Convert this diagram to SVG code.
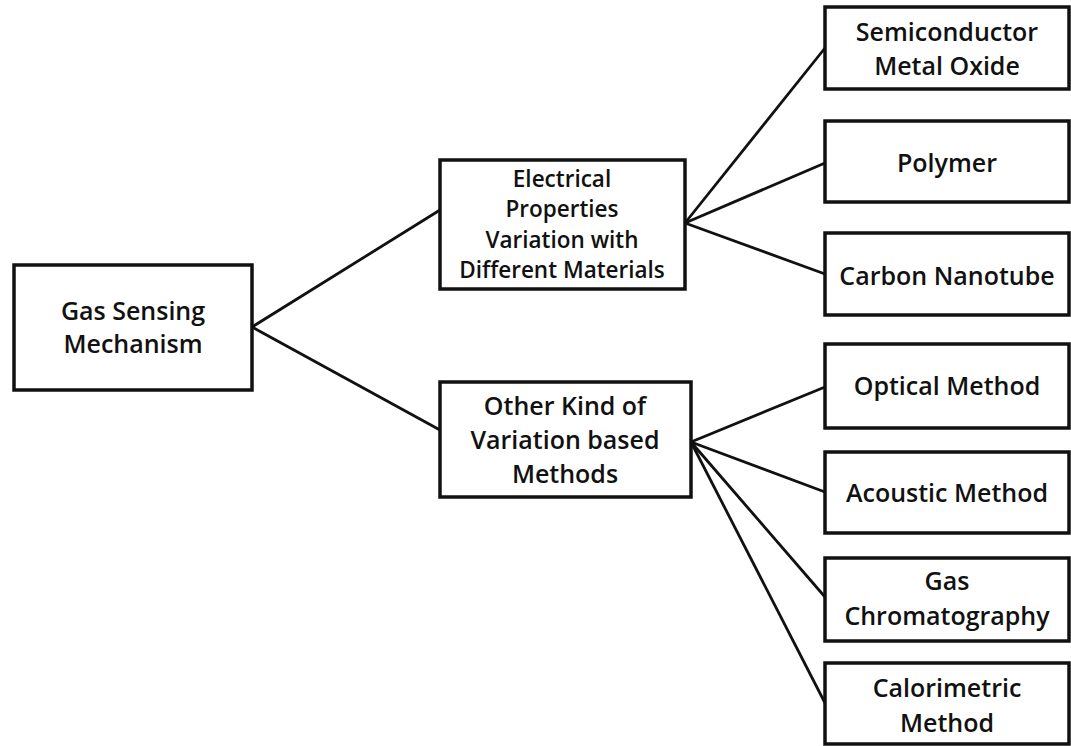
<svg xmlns="http://www.w3.org/2000/svg" width="1071" height="746" viewBox="0 0 1071 746">
<style>
.box{fill:#fff;stroke:#111;stroke-width:3.5}
.t{font-family:"Open Sans","Noto Sans",sans-serif;font-weight:600;fill:#111;text-anchor:middle;font-size:25px}
.s{font-size:22.5px}
.c line{stroke:#111;stroke-width:2.8}
</style>
<rect width="1071" height="746" fill="#fff"/>
<g class="c" id="connectors">
<line x1="252" y1="327" x2="440" y2="210"/>
<line x1="252" y1="327" x2="440" y2="430"/>
<line x1="685" y1="223" x2="825" y2="48"/>
<line x1="685" y1="223" x2="825" y2="163"/>
<line x1="685" y1="223" x2="825" y2="274"/>
<line x1="691" y1="442" x2="825" y2="387"/>
<line x1="691" y1="442" x2="825" y2="492"/>
<line x1="691" y1="442" x2="825" y2="597"/>
<line x1="691" y1="442" x2="825" y2="703"/>
</g>
<g id="root"><rect class="box" x="14" y="265" width="238" height="125"/>
<text class="t" x="133" y="320">Gas Sensing</text><text class="t" x="133" y="353">Mechanism</text></g>
<g id="electrical"><rect class="box" x="440" y="160" width="245" height="129"/>
<text class="t s" x="562" y="187">Electrical</text><text class="t s" x="562" y="217">Properties</text><text class="t s" x="562" y="248">Variation with</text><text class="t s" x="562" y="278">Different Materials</text></g>
<g id="other"><rect class="box" x="440" y="382" width="251" height="115"/>
<text class="t" x="565" y="415">Other Kind of</text><text class="t" x="565" y="449">Variation based</text><text class="t" x="565" y="483">Methods</text></g>
<g id="semi"><rect class="box" x="825" y="7" width="244" height="82"/>
<text class="t" x="947" y="41">Semiconductor</text><text class="t" x="947" y="75">Metal Oxide</text></g>
<g id="polymer"><rect class="box" x="825" y="121" width="244" height="81"/>
<text class="t" x="947" y="172">Polymer</text></g>
<g id="carbon"><rect class="box" x="825" y="233" width="244" height="82"/>
<text class="t" x="947" y="285">Carbon Nanotube</text></g>
<g id="optical"><rect class="box" x="825" y="344" width="244" height="84"/>
<text class="t" x="947" y="395">Optical Method</text></g>
<g id="acoustic"><rect class="box" x="825" y="452" width="244" height="81"/>
<text class="t" x="947" y="502">Acoustic Method</text></g>
<g id="gaschrom"><rect class="box" x="825" y="558" width="244" height="83"/>
<text class="t" x="947" y="590">Gas</text><text class="t" x="947" y="625">Chromatography</text></g>
<g id="calorimetric"><rect class="box" x="825" y="663" width="244" height="81"/>
<text class="t" x="947" y="697">Calorimetric</text><text class="t" x="947" y="732">Method</text></g>
</svg>
